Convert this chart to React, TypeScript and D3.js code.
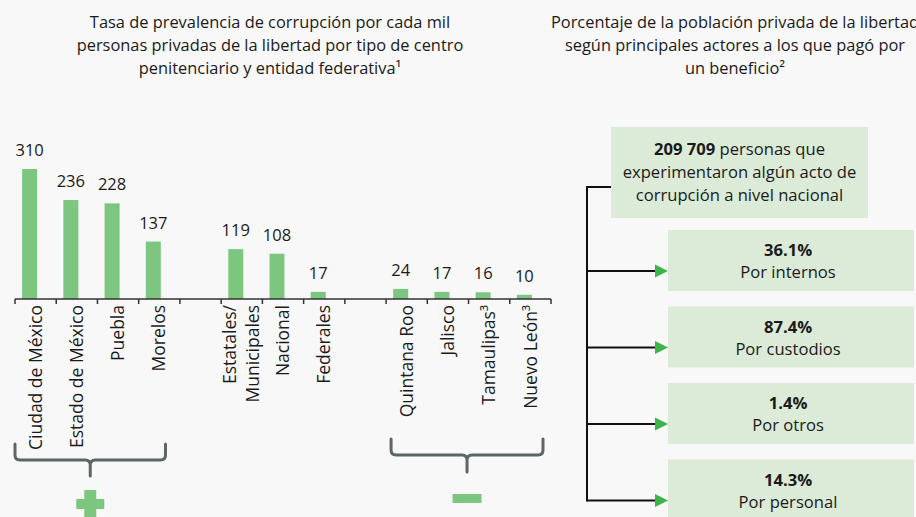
import React from 'react';
import * as d3 from 'd3';

// rate of corruption per thousand inmates
const categories = [
  'Ciudad de México', 'Estado de México', 'Puebla', 'Morelos', '',
  'Estatales/|Municipales', 'Nacional', 'Federales', ' ',
  'Quintana Roo', 'Jalisco', 'Tamaulipas³', 'Nuevo León³',
];
const values: (number | null)[] = [310, 236, 228, 137, null, 119, 108, 17, null, 24, 17, 16, 10];

const leftTitle = [
  'Tasa de prevalencia de corrupción por cada mil',
  'personas privadas de la libertad por tipo de centro',
  'penitenciario y entidad federativa¹',
];
const rightTitle = [
  'Porcentaje de la población privada de la libertad',
  'según principales actores a los que pagó por',
  'un beneficio²',
];

const totalPersons = '209 709';
const actors = ['Por internos', 'Por custodios', 'Por otros', 'Por personal'];
const actorPct = [36.1, 87.4, 1.4, 14.3];

const W = 916;
const H = 517;
const FONT = '"Open Sans", "Noto Sans", sans-serif';
const GREEN = '#7dc67f';
const ARROW = '#3db54a';
const BOX = '#dbebd8';
const INK = '#1a1a1a';
const BRACE = '#5b6767';

export default function App() {
  const x = d3.scaleBand<string>().domain(categories).range([15, 551]).padding(0);
  const y = d3.scaleLinear().domain([0, 310]).range([299, 169]);
  const bw = x.bandwidth();
  const barW = 15;
  const barX = (c: string) => (x(c) as number) + bw / 2 - 6 - barW / 2;

  const boxY = d3.scaleLinear().domain([0, 1]).range([230, 306.5]);
  const boxH = 61;
  const stemX = 587;

  const braceL = { x0: x(categories[0])!, x1: x(categories[3])! + bw * 0.65, y0: 444, y1: 460, tip: 476 };
  const braceR = { x0: x(categories[9])! + 5, x1: x(categories[12])! + bw - 8, y0: 439, y1: 455, tip: 472 };
  const bracePath = (b: { x0: number; x1: number; y0: number; y1: number; tip: number }) => {
    const m = (b.x0 + b.x1) / 2;
    const r = 5;
    return `M${b.x0},${b.y0} V${b.y1 - r} Q${b.x0},${b.y1} ${b.x0 + r},${b.y1} H${m - r} Q${m},${b.y1} ${m},${b.y1 + r} V${b.tip}` +
      ` M${m},${b.y1 + r} Q${m},${b.y1} ${m + r},${b.y1} H${b.x1 - r} Q${b.x1},${b.y1} ${b.x1},${b.y1 - r} V${b.y0}`;
  };
  const mL = (braceL.x0 + braceL.x1) / 2;
  const mR = (braceR.x0 + braceR.x1) / 2;

  return (
    <svg width={W} height={H} style={{ position: 'absolute', left: 0, top: 0, background: '#f8f8f8' }}
      fontFamily={FONT}>
      {/* titles */}
      {leftTitle.map((t, i) => (
        <text key={'lt' + i} x={270} y={28 + i * 23} textAnchor="middle" fontSize={16.4} fill={INK}>{t}</text>
      ))}
      {rightTitle.map((t, i) => (
        <text key={'rt' + i} x={735} y={28 + i * 23} textAnchor="middle" fontSize={16.4} fill={INK}>{t}</text>
      ))}

      {/* bars */}
      {categories.map((c, i) => values[i] == null ? null : (
        <g key={'b' + i}>
          <rect x={barX(c)} y={y(values[i] as number)} width={barW} height={y(0) - y(values[i] as number)} fill={GREEN} />
          <text x={barX(c) + barW / 2} y={y(values[i] as number) - 13} textAnchor="middle" fontSize={16.5} fill={INK}>
            {values[i]}
          </text>
        </g>
      ))}

      {/* axis */}
      <line x1={x.range()[0]} x2={x.range()[1]} y1={y(0)} y2={y(0)} stroke="#333" strokeWidth={1.5} />
      {[...categories.map(c => x(c) as number), x.range()[1]].map((tx, i) => (
        <line key={'tk' + i} x1={tx} x2={tx} y1={y(0)} y2={y(0) + 5} stroke="#333" strokeWidth={1.5} />
      ))}
      {categories.map((c, i) => {
        if (!c.trim()) return null;
        const lines = c.split('|');
        const cx = (x(c) as number) + bw / 2;
        return lines.map((ln, j) => {
          const lx = cx + (j - (lines.length - 1) / 2) * 23;
          return (
            <text key={'cl' + i + '_' + j} transform={`translate(${lx},305) rotate(-90)`} textAnchor="end"
              dy="0.35em" fontSize={17.5} fill={INK}>{ln}</text>
          );
        });
      })}

      {/* braces and signs */}
      <path d={bracePath(braceL)} fill="none" stroke={BRACE} strokeWidth={3} strokeLinecap="round" />
      <path d={bracePath(braceR)} fill="none" stroke={BRACE} strokeWidth={3} strokeLinecap="round" />
      <rect x={mL - 6} y={490} width={12} height={30} fill={GREEN} />
      <rect x={mL - 14} y={499} width={28} height={10} fill={GREEN} />
      <rect x={mR - 14.5} y={494} width={29} height={9} fill={GREEN} />

      {/* right panel */}
      <rect x={611} y={127} width={257} height={91} fill={BOX} />
      <text x={739.5} y={155} textAnchor="middle" fontSize={16.6} fill={INK}>
        <tspan fontWeight="bold">{totalPersons}</tspan> personas que
      </text>
      <text x={739.5} y={178} textAnchor="middle" fontSize={16.6} fill={INK}>experimentaron algún acto de</text>
      <text x={739.5} y={201} textAnchor="middle" fontSize={16.6} fill={INK}>corrupción a nivel nacional</text>

      <line x1={stemX} x2={611} y1={187} y2={187} stroke="#111" strokeWidth={2} />
      <line x1={stemX} x2={stemX} y1={186} y2={boxY(actors.length - 1) + 42} stroke="#111" strokeWidth={2} />
      {actors.map((a, i) => {
        const top = boxY(i);
        const ay = top + 41;
        return (
          <g key={'a' + i}>
            <rect x={668} y={top} width={246} height={boxH} fill={BOX} />
            <line x1={stemX} x2={656} y1={ay} y2={ay} stroke="#111" strokeWidth={2} />
            <path d={`M655,${ay - 6.5} L668,${ay} L655,${ay + 6.5} Z`} fill={ARROW} />
            <text x={788} y={top + 26} textAnchor="middle" fontSize={16.6} fontWeight="bold" fill={INK}>
              {d3.format('.1f')(actorPct[i])}%
            </text>
            <text x={788} y={top + 48} textAnchor="middle" fontSize={16.6} fill={INK}>{a}</text>
          </g>
        );
      })}
    </svg>
  );
}
